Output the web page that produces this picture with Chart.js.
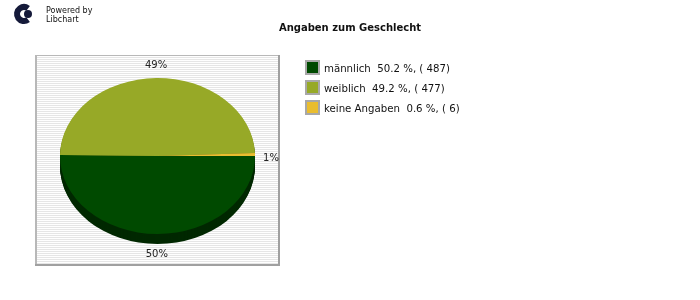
<!DOCTYPE html>
<html>
<head>
<meta charset="utf-8">
<script src="https://cdn.jsdelivr.net/npm/chart.js@4"></script>
<style>
  body{margin:0;background:#fff;}
  #wrap{position:relative;width:700px;height:300px;overflow:hidden;font-family:"DejaVu Sans",sans-serif;color:#111;}
  canvas{position:absolute;left:0;top:0;}
  .powered{position:absolute;left:46px;top:6px;font-size:8px;line-height:9px;color:#111;}
  .title{position:absolute;left:0;width:700px;top:22px;text-align:center;font-size:10px;font-weight:bold;}
  .legend{position:absolute;left:305px;top:60px;}
  .row{position:relative;height:20px;font-size:10.2px;line-height:16px;white-space:pre;}
  .box{position:absolute;left:0;top:0;width:11px;height:11px;border:2px solid #a8a8a8;}
  .row span.t{position:absolute;left:19px;top:1px;}
</style>
</head>
<body>
<div id="wrap">
  <canvas id="c" width="700" height="300"></canvas>
  <div class="powered">Powered by<br>Libchart</div>
  <div class="title" id="title"></div>
  <div class="legend" id="legend"></div>
</div>
<script>
const chartTitle = 'Angaben zum Geschlecht';
const labels = ['männlich', 'weiblich', 'keine Angaben'];
const counts = [487, 477, 6];
const colors = ['#004a00', '#97a927', '#e9bd2f'];
const sideColors = ['#002800', '#5c6817', '#8c721c'];

const squash = 0.8;   // ellipse height / width
const depth = 10;     // thickness of the 3d rim
const total = counts.reduce((a,b)=>a+b,0);

document.getElementById('title').textContent = chartTitle;
document.getElementById('legend').innerHTML = labels.map((l,i)=>
  `<div class="row"><div class="box" style="background:${colors[i]}"></div><span class="t">${l}  ${(counts[i]/total*100).toFixed(1)} %, ( ${counts[i]})</span></div>`
).join('');

// striped plot box + logo
const backdrop = {
  id:'backdrop',
  beforeDraw(chart){
    const ctx = chart.ctx;
    ctx.save();
    ctx.fillStyle = '#ffffff';
    ctx.fillRect(35, 55, 245, 211);
    ctx.fillStyle = '#e6e6e6';
    for(let y=57; y<265; y+=2) ctx.fillRect(37, y, 242, 1);
    ctx.fillStyle = '#b8b8b8';
    ctx.fillRect(35, 55, 245, 1);
    ctx.fillRect(35, 55, 2, 211);
    ctx.fillStyle = '#a0a0a0';
    ctx.fillRect(278, 55, 2, 211);
    ctx.fillRect(35, 264, 245, 2);
    // logo
    ctx.strokeStyle = '#151a3a';
    ctx.fillStyle = '#151a3a';
    ctx.lineWidth = 6;
    ctx.beginPath();
    ctx.arc(24, 14, 7, Math.PI*0.3, Math.PI*1.7);
    ctx.stroke();
    ctx.beginPath();
    ctx.arc(28, 14, 4, 0, Math.PI*2);
    ctx.fill();
    ctx.restore();
  }
};

// flatten the pie into an ellipse and give it a rim
const pseudo3d = {
  id:'pseudo3d',
  beforeDatasetsDraw(chart){
    const ctx = chart.ctx;
    const arcs = chart.getDatasetMeta(0).data;
    const cx = arcs[0].x, cy = arcs[0].y;
    ctx.save();
    ctx.translate(cx, cy);
    ctx.scale(1, squash);
    ctx.translate(-cx, -cy);
    for(let d=depth; d>=1; d--){
      arcs.forEach((a,i)=>{
        ctx.fillStyle = sideColors[i];
        ctx.beginPath();
        ctx.moveTo(cx, cy + d/squash);
        ctx.arc(cx, cy + d/squash, a.outerRadius, a.startAngle, a.endAngle);
        ctx.closePath();
        ctx.fill();
      });
    }
  },
  afterDatasetsDraw(chart){
    const ctx = chart.ctx;
    ctx.restore();
    const arcs = chart.getDatasetMeta(0).data;
    ctx.save();
    ctx.font = '10px "DejaVu Sans", sans-serif';
    ctx.fillStyle = '#222';
    ctx.textAlign = 'center';
    ctx.textBaseline = 'middle';
    arcs.forEach((a,i)=>{
      const mid = (a.startAngle + a.endAngle)/2;
      const s = Math.sin(mid), c = Math.cos(mid);
      const x = a.x + c*(a.outerRadius + 16);
      const y = a.y + s*(a.outerRadius*squash + 13) + (s>0 ? s*(depth-3) : 0) + 4*(1-Math.abs(s));
      ctx.fillText(Math.round(counts[i]/total*100) + '%', x, y);
    });
    ctx.restore();
  }
};

new Chart(document.getElementById('c'), {
  type:'pie',
  data:{labels, datasets:[{data:counts, backgroundColor:colors, borderWidth:0, clip:false}]},
  options:{
    responsive:false, animation:false, events:[],
    rotation:90,
    layout:{padding:{left:60, right:445, top:58, bottom:46}},
    plugins:{legend:{display:false}, title:{display:false}, tooltip:{enabled:false}}
  },
  plugins:[backdrop, pseudo3d]
});
</script>
</body>
</html>
